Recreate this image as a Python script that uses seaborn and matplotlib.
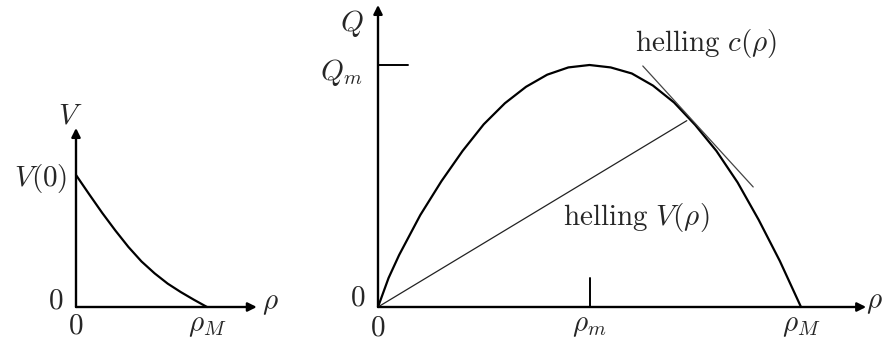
import matplotlib
matplotlib.use("Agg")
import matplotlib.pyplot as plt
import seaborn as sns
import pandas as pd

# Speed-density relation V(rho), rho in units of rho_M, V in units of V(0)
v_rho = [0.0, 0.1, 0.2, 0.3, 0.4, 0.5, 0.6, 0.7, 0.8, 0.9, 1.0]
v_val = [1.0, 0.855, 0.713, 0.58, 0.455, 0.345, 0.255, 0.177, 0.113, 0.055, 0.0]

# Flux Q(rho), rho in units of rho_M, Q in units of Q_m
q_rho = [0.0, 0.025, 0.05, 0.1, 0.15, 0.2, 0.25, 0.3, 0.35, 0.4, 0.45, 0.5,
         0.55, 0.6, 0.65, 0.7, 0.75, 0.8, 0.85, 0.9, 0.95, 1.0]
q_val = [0.0, 0.12, 0.215, 0.38, 0.52, 0.645, 0.755, 0.842, 0.91, 0.96, 0.99, 1.0,
         0.99, 0.965, 0.915, 0.845, 0.752, 0.645, 0.515, 0.36, 0.19, 0.0]

# Position of the maximum flux
rho_m = 0.5
# Chord from the origin (slope V(rho)) and tangent (slope c(rho))
chord_rho = [0.0, 0.73]
chord_q = [0.0, 0.77]
tangent_rho = [0.626, 0.887]
tangent_q = [0.996, 0.496]

W, H = 882, 342
sns.set_theme(style="white")
plt.rcParams["mathtext.fontset"] = "cm"
plt.rcParams["font.family"] = ["DejaVu Sans"]

fig = plt.figure(figsize=(W / 100, H / 100), dpi=100)
fig.patch.set_facecolor("white")


def place(ax, x0, x1, y0, y1, xlim, ylim):
    """Position axes so data 0/1 land on the given pixel columns/rows (rows from top)."""
    sx = x1 - x0
    sy = y0 - y1
    left = x0 + sx * xlim[0]
    right = x0 + sx * xlim[1]
    bottom = H - (y0 - sy * ylim[0])
    top = H - (y0 - sy * ylim[1])
    ax.set_position([left / W, bottom / H, (right - left) / W, (top - bottom) / H])
    ax.set_xlim(xlim)
    ax.set_ylim(ylim)
    ax.axis("off")
    ax.patch.set_visible(False)


def arrow(ax, x, y):
    ax.annotate("", xy=(x, y), xytext=(0, 0),
                arrowprops=dict(arrowstyle="-|>", color="black", lw=1.7,
                                mutation_scale=13, shrinkA=0, shrinkB=0))


FS = 21

# ---- left panel: V(rho)
axL = fig.add_axes([0, 0, 1, 1])
place(axL, 76, 207, 307, 175, (-0.6, 1.6), (-0.35, 1.55))
dfV = pd.DataFrame({"rho": v_rho, "V": v_val})
sns.lineplot(data=dfV, x="rho", y="V", ax=axL, color="black", lw=1.6,
             sort=False, estimator=None)
arrow(axL, 0, 1.356)
arrow(axL, 1.38, 0)
axL.text(-0.045, 1.45, r"$V$", fontsize=FS, ha="center", va="center")
axL.text(-0.065, 0.97, r"$V(0)$", fontsize=FS, ha="right", va="center")
axL.text(-0.095, 0.05, r"$0$", fontsize=FS, ha="right", va="center")
axL.text(0.0, -0.14, r"$0$", fontsize=FS, ha="center", va="center")
axL.text(1.0, -0.14, r"$\rho_M$", fontsize=FS, ha="center", va="center")
axL.text(1.42, 0.03, r"$\rho$", fontsize=FS, ha="left", va="center")

# ---- right panel: Q(rho)
axR = fig.add_axes([0, 0, 1, 1])
place(axR, 378, 801, 307, 65, (-0.2, 1.25), (-0.15, 1.32))
dfQ = pd.DataFrame({"rho": q_rho, "Q": q_val})
sns.lineplot(data=dfQ, x="rho", y="Q", ax=axR, color="black", lw=1.6,
             sort=False, estimator=None)
sns.lineplot(x=chord_rho, y=chord_q, ax=axR, color="#222222", lw=0.9,
             sort=False, estimator=None)
sns.lineplot(x=tangent_rho, y=tangent_q, ax=axR, color="#444444", lw=0.9,
             sort=False, estimator=None)
arrow(axR, 0, 1.248)
arrow(axR, 1.154, 0)
# marks for Q_m and rho_m
axR.plot([0, 0.071], [1.0, 1.0], color="black", lw=1.4)
axR.plot([rho_m, rho_m], [0, 0.12], color="black", lw=1.4)

axR.text(-0.061, 1.17, r"$Q$", fontsize=FS, ha="center", va="center")
axR.text(-0.036, 0.97, r"$Q_m$", fontsize=FS, ha="right", va="center")
axR.text(-0.03, 0.04, r"$0$", fontsize=FS, ha="right", va="center")
axR.text(0.0, -0.085, r"$0$", fontsize=FS, ha="center", va="center")
axR.text(rho_m, -0.075, r"$\rho_m$", fontsize=FS, ha="center", va="center")
axR.text(1.0, -0.075, r"$\rho_M$", fontsize=FS, ha="center", va="center")
axR.text(1.153, 0.02, r"$\rho$", fontsize=FS, ha="left", va="center")
axR.text(0.776, 1.09, r"$\mathrm{helling}\ c(\rho)$", fontsize=FS,
         ha="center", va="center")
axR.text(0.61, 0.368, r"$\mathrm{helling}\ V(\rho)$", fontsize=FS,
         ha="center", va="center")

fig.savefig("out.png", dpi=100, facecolor="white")
